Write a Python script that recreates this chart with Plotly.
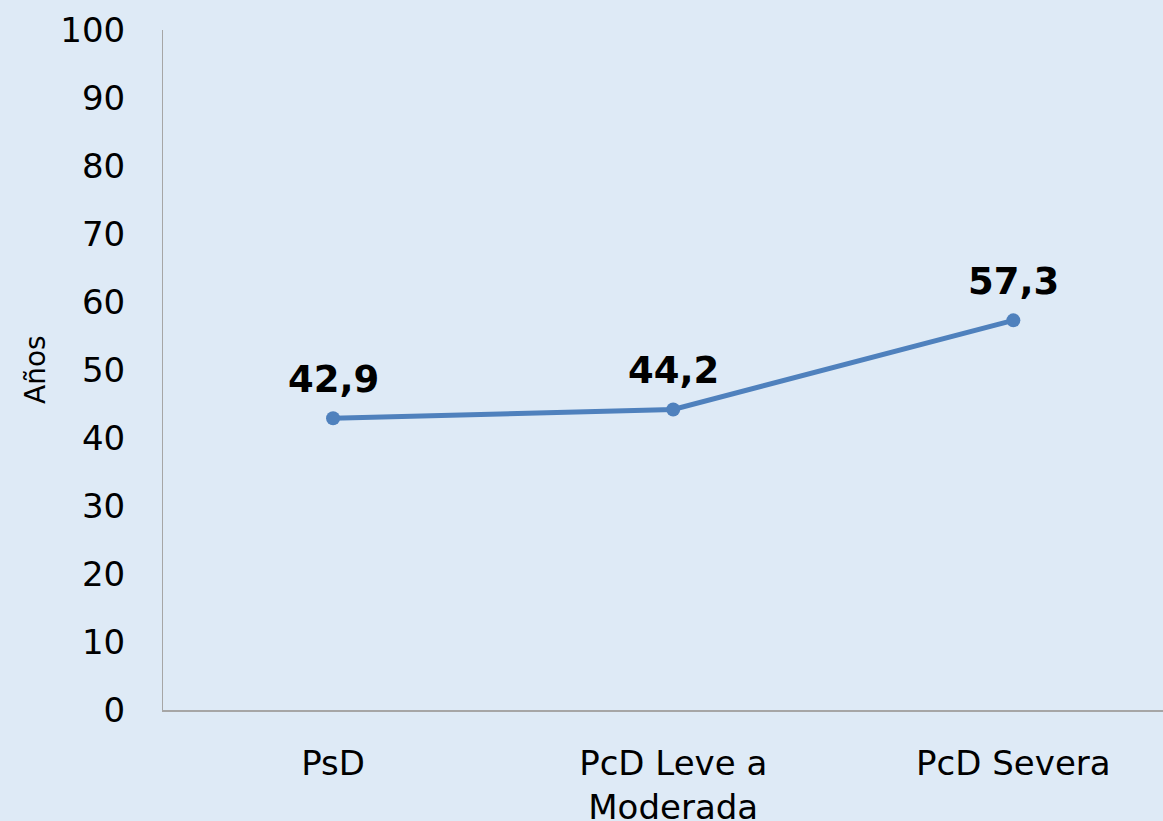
import plotly.graph_objects as go

categories = ["PsD", "PcD Leve a<br>Moderada", "PcD Severa"]
values = [42.9, 44.2, 57.3]
labels = ["42,9", "44,2", "57,3"]
y_ticks = [0, 10, 20, 30, 40, 50, 60, 70, 80, 90, 100]
y_title = "Años"

bg = "#DEEAF6"
font = "DejaVu Sans, Verdana, sans-serif"

xs = list(range(len(categories)))

fig = go.Figure()
fig.add_trace(go.Scatter(
    x=xs,
    y=values,
    mode="lines+markers",
    line=dict(color="#4F81BD", width=5),
    marker=dict(color="#4F81BD", size=14),
    cliponaxis=False,
    showlegend=False,
))

for xv, yv, t in zip(xs, values, labels):
    fig.add_annotation(
        x=xv, y=yv, text=t, showarrow=False, yshift=39,
        font=dict(family=font, size=37, color="black", weight="bold"),
    )

fig.add_annotation(
    xref="paper", yref="paper", x=-0.128, y=0.5, text=y_title,
    textangle=-90, showarrow=False, xanchor="center", yanchor="middle",
    font=dict(family=font, size=28, color="black"),
)

fig.update_layout(
    width=1163, height=821,
    margin=dict(l=163, r=0, t=30, b=111),
    paper_bgcolor=bg, plot_bgcolor=bg,
    font=dict(family=font, color="black"),
)
fig.update_xaxes(
    tickmode="array", tickvals=xs, ticktext=categories,
    range=[-0.5, 2.44], showgrid=False, zeroline=False,
    showline=True, linecolor="#A6A6A6", linewidth=2,
    ticks="", ticklabelstandoff=22, automargin=False,
    tickfont=dict(family=font, size=34, color="black"),
)
fig.update_yaxes(
    range=[0, 100], tickvals=y_ticks, showgrid=False, zeroline=False,
    showline=True, linecolor="#A6A6A6", linewidth=1,
    ticks="", ticklabelstandoff=30, automargin=False,
    tickfont=dict(family=font, size=34, color="black"),
)

fig.write_html(
    "out.html",
    config={"displayModeBar": False},
    post_script="document.body.style.margin='0';document.body.style.background='%s';" % bg,
)
